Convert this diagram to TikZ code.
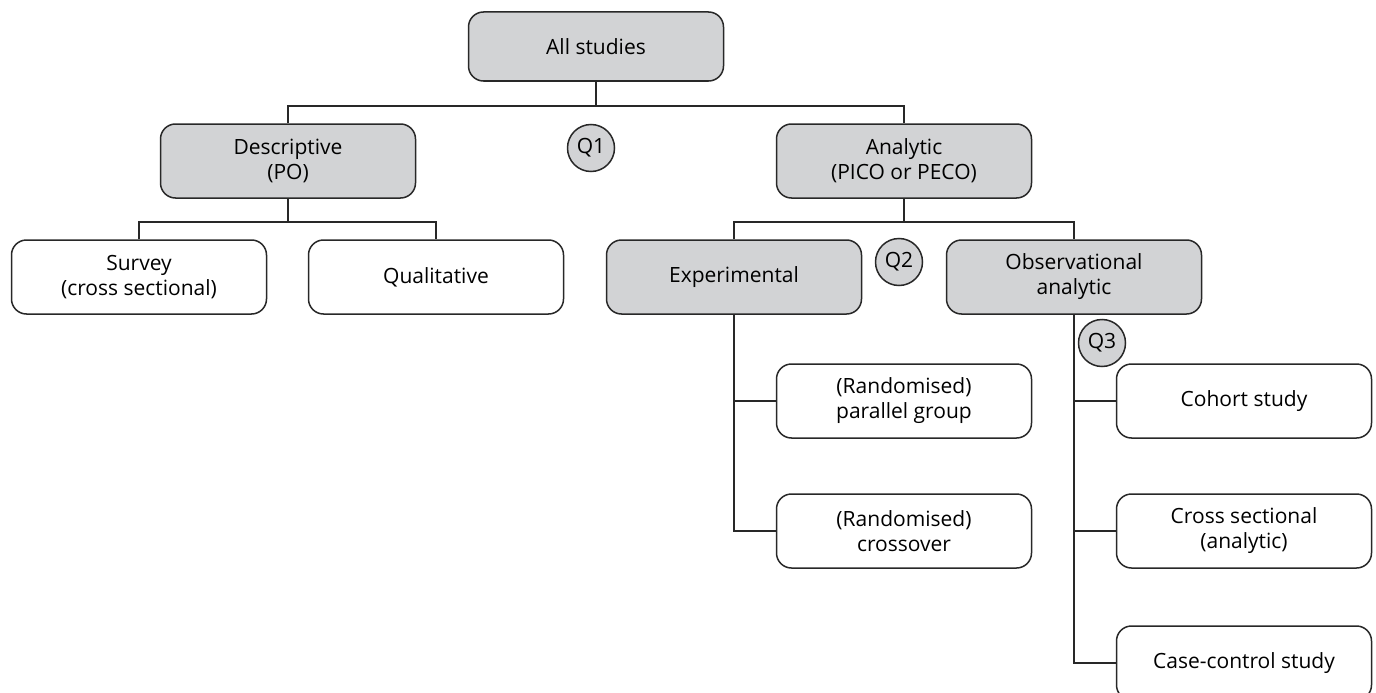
\documentclass[tikz,border=0pt]{standalone}
\usepackage{fontspec}
\setmainfont{Open Sans}
\definecolor{boxgray}{RGB}{210,211,213}
\definecolor{linegray}{RGB}{40,40,40}
\tikzset{
  base/.style={draw=linegray, line width=1.5pt, rounded corners=15pt, minimum width=255pt, minimum height=74pt, align=center, font=\fontsize{21}{25}\selectfont, inner sep=0pt},
  graybox/.style={base, fill=boxgray},
  whitebox/.style={base, fill=white},
  qcirc/.style={circle, draw=linegray, line width=1.5pt, fill=boxgray, minimum size=47pt, inner sep=0pt, font=\fontsize{21}{25}\selectfont},
  conn/.style={draw=linegray, line width=1.4pt}
}
\begin{document}
\begin{tikzpicture}[x=1pt,y=-1pt]
\useasboundingbox (0,0) rectangle (1376,693);
\fill[white] (0,0) rectangle (1376,693);
\node[graybox, minimum height=69pt] (all) at (596,46.5) {All studies};
\node[graybox] (desc) at (288,161) {Descriptive\\(PO)};
\node[graybox] (anal) at (904,161) {Analytic\\(PICO or PECO)};
\node[whitebox] (survey) at (139,277) {Survey\\(cross sectional)};
\node[whitebox] (qual) at (436,277) {Qualitative};
\node[graybox] (exp) at (734,277) {Experimental};
\node[graybox] (obs) at (1074,277) {Observational\\analytic};
\node[whitebox] (par) at (904,401) {(Randomised)\\parallel group};
\node[whitebox] (cross) at (904,531) {(Randomised)\\crossover};
\node[whitebox] (coh) at (1244,401) {Cohort study};
\node[whitebox] (cs) at (1244,531) {Cross sectional\\(analytic)};
\node[whitebox] (cc) at (1244,663) {Case-control study};
\node[qcirc] (q1) at (591,148) {Q1};
\node[qcirc] (q2) at (899,262) {Q2};
\node[qcirc] (q3) at (1102,343) {Q3};
\coordinate (j1) at (596,106);
\coordinate (j2) at (288,222);
\coordinate (j3) at (904,222);
\draw[conn] (all.south) -- (j1);
\draw[conn] (desc.north) |- (j1) -| (anal.north);
\draw[conn] (desc.south) -- (j2);
\draw[conn] (survey.north) |- (j2) -| (qual.north);
\draw[conn] (anal.south) -- (j3);
\draw[conn] (exp.north) |- (j3) -| (obs.north);
\draw[conn] (exp.south) |- (cross.west);
\draw[conn] (par.west) -- (par.west -| exp.south);
\draw[conn] (obs.south) |- (cc.west);
\draw[conn] (coh.west) -- (coh.west -| obs.south);
\draw[conn] (cs.west) -- (cs.west -| obs.south);
\end{tikzpicture}
\end{document}
